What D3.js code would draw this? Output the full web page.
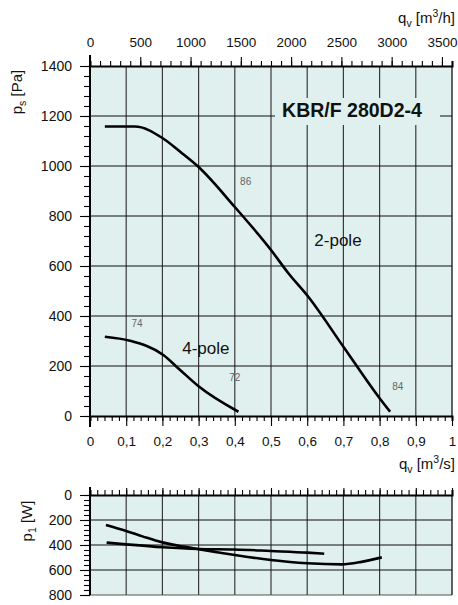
<!DOCTYPE html>
<html>
<head>
<meta charset="utf-8">
<script src="https://cdn.jsdelivr.net/npm/d3@7"></script>
<style>
  html, body { margin: 0; padding: 0; background: #ffffff; }
  svg { display: block; font-family: "Liberation Sans", Arial, sans-serif; }
</style>
</head>
<body>
<svg id="chart" width="458" height="605"></svg>
<script>
// ---- data ----
const flowTicksM3s = [0, 0.1, 0.2, 0.3, 0.4, 0.5, 0.6, 0.7, 0.8, 0.9, 1];
const flowTickLabels = ["0", "0,1", "0,2", "0,3", "0,4", "0,5", "0,6", "0,7", "0,8", "0,9", "1"];
const flowTicksM3h = [0, 500, 1000, 1500, 2000, 2500, 3000, 3500];
const pressureTicks = [0, 200, 400, 600, 800, 1000, 1200, 1400];
const powerTicks = [0, 200, 400, 600, 800];

const q2pole = [0.041, 0.124, 0.2, 0.25, 0.3, 0.4, 0.5, 0.548, 0.603, 0.7, 0.8, 0.829];
const p2pole = [1158, 1158, 1112, 1056, 996, 836, 664, 571, 477, 277, 71, 17];
const q4pole = [0.041, 0.11, 0.2025, 0.249, 0.299, 0.41];
const p4pole = [317, 301, 244, 184, 120, 17];

const qPowerA = [0.044, 0.1, 0.147, 0.2, 0.258, 0.304, 0.35, 0.4, 0.5, 0.6, 0.695, 0.75, 0.806];
const wPowerA = [240, 288, 333, 379, 413, 435, 457, 480, 520, 546, 555, 535, 499];
const qPowerB = [0.046, 0.1, 0.2, 0.3, 0.4, 0.5, 0.6, 0.647];
const wPowerB = [381, 395, 418, 432, 436, 448, 461, 470];

const efficiencyLabels = [
  { q: 0.13, p: 355, text: "74" },
  { q: 0.40, p: 140, text: "72" },
  { q: 0.43, p: 925, text: "86" },
  { q: 0.85, p: 105, text: "84" }
];
const curveLabels = [
  { q: 0.32, p: 250, text: "4-pole" },
  { q: 0.685, p: 680, text: "2-pole" }
];
const title = "KBR/F 280D2-4";

// ---- layout ----
const svg = d3.select("#chart");
const L = 90, R = 452;
const x = d3.scaleLinear().domain([0, 1]).range([L, R]);
const xTop = d3.scaleLinear().domain([0, 3600]).range([L, R]);
const y = d3.scaleLinear().domain([0, 1400]).range([416, 66]);
const yP = d3.scaleLinear().domain([0, 800]).range([495, 595]);

const bg = "#dff0ee";
const font = "'Liberation Sans', Arial, sans-serif";

// ---- main chart background & grid ----
svg.append("rect").attr("x", L).attr("y", y(1400)).attr("width", R - L).attr("height", y(0) - y(1400)).attr("fill", bg);

const gridV = d3.range(1, 10).map(i => i / 10);
svg.append("g").selectAll("line").data(gridV).join("line")
  .attr("x1", d => x(d)).attr("x2", d => x(d))
  .attr("y1", y(1400)).attr("y2", y(0))
  .attr("stroke", "#3a3a3a").attr("stroke-width", 1.2);
svg.append("g").selectAll("line").data(pressureTicks.filter(d => d > 0 && d < 1400)).join("line")
  .attr("x1", L).attr("x2", R)
  .attr("y1", d => y(d)).attr("y2", d => y(d))
  .attr("stroke", "#111").attr("stroke-width", 1);

// title box
svg.append("rect").attr("x", 275).attr("y", 98).attr("width", 165).attr("height", 27).attr("fill", bg);
svg.append("text").attr("x", 352).attr("y", 117).attr("text-anchor", "middle")
  .attr("font-size", 19.5).attr("font-weight", "bold").attr("fill", "#111").text(title);

// curves
const line = d3.line().x(d => x(d[0])).y(d => y(d[1])).curve(d3.curveMonotoneX);
svg.append("path").datum(d3.zip(q2pole, p2pole)).attr("d", line)
  .attr("fill", "none").attr("stroke", "#000").attr("stroke-width", 2.6);
svg.append("path").datum(d3.zip(q4pole, p4pole)).attr("d", line)
  .attr("fill", "none").attr("stroke", "#000").attr("stroke-width", 2.6);

svg.append("g").selectAll("text").data(efficiencyLabels).join("text")
  .attr("x", d => x(d.q)).attr("y", d => y(d.p)).attr("text-anchor", "middle")
  .attr("font-size", 10).attr("fill", "#666").text(d => d.text);
svg.append("g").selectAll("text").data(curveLabels).join("text")
  .attr("x", d => x(d.q)).attr("y", d => y(d.p)).attr("text-anchor", "middle")
  .attr("font-size", 17).attr("fill", "#111").text(d => d.text);

// borders
svg.append("line").attr("x1", R).attr("x2", R).attr("y1", y(1400)).attr("y2", y(0)).attr("stroke", "#111").attr("stroke-width", 1.3);

// ---- axes main ----
function styleAxis(g) {
  g.selectAll("path.domain").attr("stroke", "#000").attr("stroke-width", 2);
  g.selectAll(".tick line").attr("stroke", "#000").attr("stroke-width", 1.1);
  g.selectAll("text").attr("font-family", font).attr("fill", "#111");
}

// bottom minor
svg.append("g").attr("transform", `translate(0,${y(0)})`)
  .call(d3.axisBottom(x).tickValues(d3.range(0, 51).map(i => i / 50)).tickSize(5).tickFormat(""))
  .call(styleAxis);
svg.append("g").attr("transform", `translate(0,${y(0)})`)
  .call(d3.axisBottom(x).tickValues(flowTicksM3s).tickSize(10).tickPadding(10).tickFormat((d, i) => flowTickLabels[i]))
  .call(g => g.select("path.domain").remove())
  .call(styleAxis)
  .call(g => g.selectAll("text").attr("font-size", 13.5));

// top axis m3/h
svg.append("g").attr("transform", `translate(0,${y(1400)})`)
  .call(d3.axisTop(xTop).tickValues(d3.range(0, 3601, 100)).tickSize(5).tickFormat(""))
  .call(styleAxis);
svg.append("g").attr("transform", `translate(0,${y(1400)})`)
  .call(d3.axisTop(xTop).tickValues(flowTicksM3h).tickSize(9).tickPadding(10).tickFormat(d3.format("d")))
  .call(g => g.select("path.domain").remove())
  .call(styleAxis)
  .call(g => g.selectAll("text").attr("font-size", 13.5));

// left axis
svg.append("g").attr("transform", `translate(${L},0)`)
  .call(d3.axisLeft(y).tickValues(d3.range(0, 1401, 40)).tickSize(6).tickFormat(""))
  .call(g => g.select("path.domain").remove())
  .call(styleAxis);
svg.append("g").attr("transform", `translate(${L},0)`)
  .call(d3.axisLeft(y).tickValues(pressureTicks).tickSize(10).tickPadding(8).tickFormat(d3.format("d")))
  .call(g => g.select("path.domain").remove())
  .call(styleAxis)
  .call(g => g.selectAll("text").attr("font-size", 14));
svg.append("line").attr("x1", L).attr("x2", L).attr("y1", 55).attr("y2", 427).attr("stroke", "#000").attr("stroke-width", 2);

// axis titles
const tTop = svg.append("text").attr("x", 455).attr("y", 23).attr("text-anchor", "end").attr("font-size", 15).attr("fill", "#111");
tTop.append("tspan").text("q");
tTop.append("tspan").attr("font-size", 10.5).attr("dy", 4).text("v");
tTop.append("tspan").attr("dy", -4).text(" [m");
tTop.append("tspan").attr("font-size", 10.5).attr("dy", -6).text("3");
tTop.append("tspan").attr("dy", 6).text("/h]");

const tBot = svg.append("text").attr("x", 455).attr("y", 469).attr("text-anchor", "end").attr("font-size", 15).attr("fill", "#111");
tBot.append("tspan").text("q");
tBot.append("tspan").attr("font-size", 10.5).attr("dy", 4).text("v");
tBot.append("tspan").attr("dy", -4).text(" [m");
tBot.append("tspan").attr("font-size", 10.5).attr("dy", -6).text("3");
tBot.append("tspan").attr("dy", 6).text("/s]");

const tPs = svg.append("text").attr("transform", "translate(22,92) rotate(-90)").attr("text-anchor", "middle").attr("font-size", 15).attr("fill", "#111");
tPs.append("tspan").text("p");
tPs.append("tspan").attr("font-size", 10.5).attr("dy", 4).text("s");
tPs.append("tspan").attr("dy", -4).text(" [Pa]");

const tP1 = svg.append("text").attr("transform", "translate(32,521) rotate(-90)").attr("text-anchor", "middle").attr("font-size", 15).attr("fill", "#111");
tP1.append("tspan").text("p");
tP1.append("tspan").attr("font-size", 10.5).attr("dy", 4).text("1");
tP1.append("tspan").attr("dy", -4).text(" [W]");

// ---- power chart ----
svg.append("rect").attr("x", L).attr("y", yP(0)).attr("width", R - L).attr("height", yP(800) - yP(0)).attr("fill", bg);
svg.append("g").selectAll("line").data(gridV).join("line")
  .attr("x1", d => x(d)).attr("x2", d => x(d))
  .attr("y1", yP(0)).attr("y2", yP(800))
  .attr("stroke", "#3a3a3a").attr("stroke-width", 1.2);
svg.append("g").selectAll("line").data(powerTicks.filter(d => d > 0 && d < 800)).join("line")
  .attr("x1", L).attr("x2", R)
  .attr("y1", d => yP(d)).attr("y2", d => yP(d))
  .attr("stroke", "#111").attr("stroke-width", 1);
svg.append("line").attr("x1", L).attr("x2", R).attr("y1", yP(800)).attr("y2", yP(800)).attr("stroke", "#555").attr("stroke-width", 1);
svg.append("line").attr("x1", R).attr("x2", R).attr("y1", yP(0)).attr("y2", yP(800)).attr("stroke", "#111").attr("stroke-width", 1.3);

const lineP = d3.line().x(d => x(d[0])).y(d => yP(d[1])).curve(d3.curveMonotoneX);
svg.append("path").datum(d3.zip(qPowerA, wPowerA)).attr("d", lineP)
  .attr("fill", "none").attr("stroke", "#000").attr("stroke-width", 2.6);
svg.append("path").datum(d3.zip(qPowerB, wPowerB)).attr("d", lineP)
  .attr("fill", "none").attr("stroke", "#000").attr("stroke-width", 2.6);

svg.append("g").attr("transform", `translate(0,${yP(0)})`)
  .call(d3.axisTop(x).tickValues(d3.range(0, 51).map(i => i / 50)).tickSize(5).tickFormat(""))
  .call(styleAxis);
svg.append("g").attr("transform", `translate(0,${yP(0)})`)
  .call(d3.axisTop(x).tickValues(flowTicksM3s).tickSize(7).tickFormat(""))
  .call(g => g.select("path.domain").remove())
  .call(styleAxis);
svg.append("g").attr("transform", `translate(${L},0)`)
  .call(d3.axisLeft(yP).tickValues(d3.range(0, 801, 40)).tickSize(6).tickFormat(""))
  .call(g => g.select("path.domain").remove())
  .call(styleAxis);
svg.append("g").attr("transform", `translate(${L},0)`)
  .call(d3.axisLeft(yP).tickValues(powerTicks).tickSize(10).tickPadding(8).tickFormat(d3.format("d")))
  .call(g => g.select("path.domain").remove())
  .call(styleAxis)
  .call(g => g.selectAll("text").attr("font-size", 14));
svg.append("line").attr("x1", L).attr("x2", L).attr("y1", 487).attr("y2", yP(800)).attr("stroke", "#000").attr("stroke-width", 2);
</script>
</body>
</html>
